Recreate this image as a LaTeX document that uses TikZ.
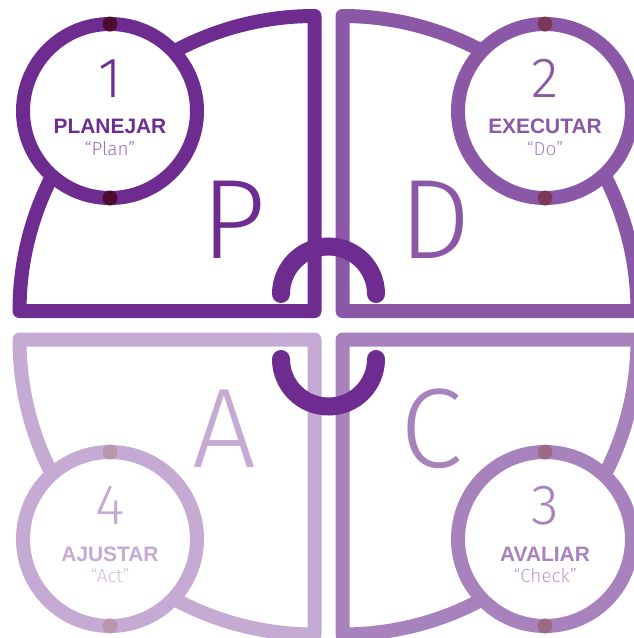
\documentclass[tikz,border=0pt]{standalone}
\usepackage{fontspec}
\newfontfamily\lightfont{Fira Sans Light}
\newfontfamily\boldsans{Liberation Sans}
\definecolor{cP}{HTML}{6E2C90}
\definecolor{cD}{HTML}{8B58A8}
\definecolor{cC}{HTML}{A882BD}
\definecolor{cA}{HTML}{C5AAD3}
\definecolor{dP}{HTML}{4D0B2F}
\definecolor{dD}{HTML}{7B3858}
\definecolor{dC}{HTML}{9B6B85}
\definecolor{dA}{HTML}{B797A9}
\definecolor{qP}{HTML}{9C71BA}
\definecolor{qD}{HTML}{A583BF}
\definecolor{qC}{HTML}{B899CC}
\definecolor{qA}{HTML}{D2BEDC}
\tikzset{
  quad/.style={line width=14pt, line join=round, line cap=round},
  conn/.style={line width=18pt, line cap=round, cP},
  ring/.style={circle, draw=#1, fill=white, line width=14pt, minimum size=174pt, inner sep=0pt, outer sep=0pt},
  knob/.style={circle, fill=#1, minimum size=15pt, inner sep=0pt},
  bigletter/.style={anchor=base, inner sep=0pt, font=\lightfont\fontsize{113}{113}\selectfont},
  numtext/.style={anchor=base, inner sep=0pt, font=\lightfont\fontsize{56.6}{56.6}\selectfont},
  labeltext/.style={anchor=base, inner sep=0pt, font=\boldsans\bfseries\fontsize{20.9}{20.9}\selectfont},
  quotetext/.style={anchor=base, inner sep=0pt, font=\lightfont\fontsize{18.9}{18.9}\selectfont}
}
\begin{document}
\begin{tikzpicture}[x=1pt,y=-1pt]
\useasboundingbox (0,0) rectangle (634,638);
\clip (0,0) rectangle (634,638);
% quadrants
\draw[quad, cP] (314.5,311) -- (19.5,311) arc[start angle=180,end angle=270,radius=295] -- cycle;
\draw[quad, cD] (342.5,311) -- (342.5,16) arc[start angle=270,end angle=360,radius=295] -- cycle;
\draw[quad, cA] (314.5,339.5) -- (19.5,339.5) arc[start angle=180,end angle=90,radius=295] -- cycle;
\draw[quad, cC] (342.5,339.5) -- (342.5,634.5) arc[start angle=90,end angle=0,radius=295] -- cycle;
% central connectors
\draw[conn] (281,294) arc[start angle=180,end angle=360,radius=47.5];
\draw[conn] (281,359) arc[start angle=180,end angle=0,radius=47.5];
% big letters
\node[bigletter, cP] (LP) at (234,258) {P};
\node[bigletter, cD] (LD) at (435,258) {D};
\node[bigletter, cA] (LA) at (224,467) {A};
\node[bigletter, cC] (LC) at (432,467) {C};
% rings
\node[ring=cP] (R1) at (110,111) {};
\node[ring=cD] (R2) at (545,111) {};
\node[ring=cC] (R3) at (545,539) {};
\node[ring=cA] (R4) at (110,539) {};
% knobs
\node[knob=dP] (K1a) at (R1.north) {};
\node[knob=dP] (K1b) at (R1.south) {};
\node[knob=dD] (K2a) at (R2.north) {};
\node[knob=dD] (K2b) at (R2.south) {};
\node[knob=dC] (K3a) at (R3.north) {};
\node[knob=dC] (K3b) at (R3.south) {};
\node[knob=dA] (K4a) at (R4.north) {};
\node[knob=dA] (K4b) at (R4.south) {};
% texts
\node[numtext, cP] (N1) at (110,97) {1};
\node[labeltext, cP] (T1) at (110,133) {PLANEJAR};
\node[quotetext, qP] (Q1) at (110,155) {“Plan”};
\node[numtext, cD] (N2) at (545,97) {2};
\node[labeltext, cD] (T2) at (545,133) {EXECUTAR};
\node[quotetext, qD] (Q2) at (545,155) {“Do”};
\node[numtext, cC] (N3) at (545,524) {3};
\node[labeltext, cC] (T3) at (545,561) {AVALIAR};
\node[quotetext, qC] (Q3) at (545,582) {“Check”};
\node[numtext, cA] (N4) at (110,524) {4};
\node[labeltext, cA] (T4) at (110,561) {AJUSTAR};
\node[quotetext, qA] (Q4) at (110,582) {“Act”};
\end{tikzpicture}
\end{document}
